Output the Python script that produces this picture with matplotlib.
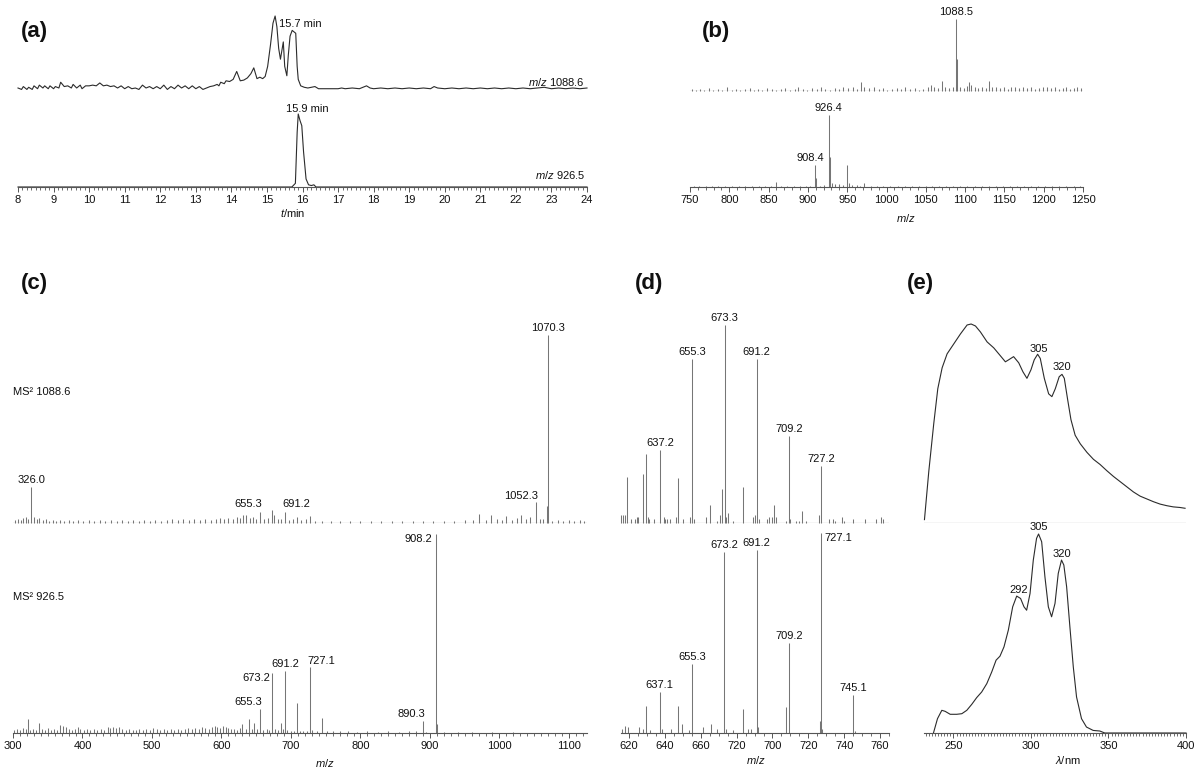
import matplotlib
matplotlib.use('Agg')
import matplotlib.pyplot as plt
import numpy as np
from matplotlib.ticker import MultipleLocator

plt.rcParams['font.family'] = ['Liberation Sans', 'DejaVu Sans']
plt.rcParams['mathtext.fontset'] = 'custom'
plt.rcParams['mathtext.it'] = 'Liberation Sans:italic'
plt.rcParams['mathtext.rm'] = 'Liberation Sans'

# ---- (a) extracted ion chromatograms (relative intensity, %) ----
a_top_t = [8.0, 8.1, 8.15, 8.25, 8.3, 8.4, 8.45, 8.55, 8.6, 8.7,
           8.75, 8.85, 8.9, 9.0, 9.05, 9.15, 9.2, 9.3, 9.4, 9.5,
           9.55, 9.65, 9.75, 9.8, 9.9, 10.0, 10.1, 10.2, 10.3, 10.4,
           10.5, 10.6, 10.7, 10.8, 10.9, 11.0, 11.1, 11.2, 11.3, 11.4,
           11.5, 11.6, 11.7, 11.8, 11.9, 12.0, 12.1, 12.2, 12.3, 12.4,
           12.5, 12.6, 12.7, 12.8, 12.9, 13.0, 13.1, 13.2, 13.3, 13.4,
           13.5, 13.6, 13.65, 13.7, 13.8, 13.85, 13.95, 14.05, 14.15, 14.25,
           14.35, 14.45, 14.55, 14.63, 14.72, 14.8, 14.88, 14.95, 15.02, 15.1,
           15.17, 15.23, 15.28, 15.33, 15.38, 15.43, 15.46, 15.5, 15.56, 15.6,
           15.65, 15.71, 15.76, 15.81, 15.85, 15.88, 15.95, 16.05, 16.15, 16.25,
           16.35, 16.45, 16.6, 16.8, 17.0, 17.1, 17.2, 17.4, 17.6, 17.8,
           17.9, 18.0, 18.2, 18.4, 18.6, 18.8, 19.0, 19.2, 19.4, 19.6,
           19.7, 19.8, 20.0, 20.2, 20.4, 20.6, 20.8, 21.0, 21.2, 21.4,
           21.6, 21.8, 22.0, 22.2, 22.4, 22.6, 22.8, 23.0, 23.2, 23.4,
           23.6, 23.8, 24.0]
a_top_int = [0, -2, 2, -2, 1, -2, 3, -1, 4, 0,
             3, -1, 3, -1, 2, 0, 8, 2, 3, 0,
             5, 0, 4, -1, 3, 3, 4, 3, 7, 3,
             4, 2, 3, 0, 3, -1, 2, -1, 0, -2,
             4, 0, 2, -1, 2, -1, 4, -2, 2, -1,
             4, 0, 3, -1, 3, -1, 2, -2, 0, 2,
             3, 5, 3, 8, 6, 10, 9, 12, 23, 10,
             11, 14, 20, 28, 13, 15, 13, 16, 30, 60,
             90, 100, 85, 55, 40, 55, 64, 30, 17, 45,
             72, 80, 78, 76, 30, 12, 3, 1, 0, 1,
             2, -1, -1, -1, -1, 0, -1, 0, -1, 3,
             0, -1, 0, -1, 0, -1, 0, -1, 0, -1,
             2, 0, -1, 0, -1, 0, -1, 0, -1, 0,
             -1, 0, -1, 0, -1, 0, 1, -1, 0, -1,
             0, -1, 0]
a_bot_t = [8.0, 15.7, 15.8, 15.85, 15.88, 15.93, 15.98, 16.03, 16.1, 16.17, 16.25, 16.32, 16.38, 24.0]
a_bot_int = [0, 0, 5, 75, 100, 91, 84, 48, 11, 3, 2, 3, 0, 0]

# ---- (b) full-scan mass spectra ----
b_top_mz = [752, 757, 763, 768, 774, 779, 785, 791, 797, 803,
            808, 814, 820, 826, 831, 837, 842, 848, 854, 860,
            866, 871, 877, 883, 888, 894, 899, 905, 911, 917,
            922, 928, 934, 940, 945, 951, 957, 962, 967, 972,
            978, 984, 990, 996, 1001, 1007, 1013, 1018, 1024, 1030,
            1036, 1041, 1047, 1053, 1056, 1060, 1065, 1071, 1075, 1080,
            1085, 1088.5, 1090, 1094, 1098, 1102, 1105, 1107, 1112, 1117,
            1122, 1126, 1130, 1134, 1139, 1144, 1149, 1154, 1159, 1164,
            1169, 1174, 1179, 1184, 1189, 1194, 1199, 1204, 1209, 1214,
            1219, 1224, 1229, 1234, 1239, 1243, 1247]
b_top_int = [3, 2, 3, 2, 4, 2, 3, 2, 5, 2,
             3, 2, 3, 4, 2, 3, 2, 4, 3, 2,
             3, 4, 2, 3, 5, 3, 2, 4, 3, 5,
             3, 2, 4, 3, 6, 4, 5, 3, 12, 5,
             4, 6, 3, 4, 2, 3, 4, 3, 5, 3,
             4, 2, 3, 5, 9, 6, 4, 14, 5, 4,
             6, 100, 44, 5, 4, 7, 12, 9, 5, 4,
             6, 4, 14, 6, 5, 4, 5, 3, 5, 6,
             4, 5, 4, 5, 3, 4, 5, 6, 4, 5,
             3, 4, 5, 3, 4, 5, 4]
b_bot_mz = [755, 762, 770, 778, 786, 795, 804, 812, 820, 829,
            838, 846, 853, 860, 866, 874, 882, 890, 897, 903,
            908.4, 910, 916, 920, 926.4, 928, 931, 935, 940, 945,
            950, 952, 956, 962, 966, 972, 980, 988, 996, 1005,
            1014, 1023, 1032, 1041, 1050, 1058, 1067, 1076, 1085, 1094,
            1103, 1112, 1121, 1130, 1139, 1148, 1157, 1166, 1175, 1184,
            1193, 1202, 1211, 1220, 1229, 1238, 1246]
b_bot_int = [2, 1, 2, 1, 2, 1, 2, 1, 2, 1,
             2, 1, 2, 7, 2, 1, 2, 1, 2, 2,
             30, 12, 2, 3, 100, 42, 5, 4, 4, 3,
             31, 5, 3, 3, 2, 5, 2, 2, 1, 2,
             1, 2, 1, 2, 1, 2, 1, 2, 1, 2,
             1, 2, 1, 2, 1, 2, 1, 2, 1, 2,
             1, 2, 1, 2, 1, 2, 1]
b_top_labels = ['1088.5']
b_bot_labels = ['908.4', '926.4']

# ---- (c) MS2 spectra ----
c_top_mz = [303, 307, 311, 315, 319, 322, 326.0, 330, 334, 338,
            343, 347, 352, 357, 362, 368, 374, 380, 387, 394,
            401, 409, 417, 425, 433, 441, 449, 457, 465, 473,
            481, 489, 497, 505, 513, 521, 529, 537, 545, 553,
            561, 569, 577, 585, 592, 598, 604, 610, 616, 622,
            627, 631, 635, 641, 646, 650, 655.3, 661, 667, 673,
            676, 681, 686, 691.2, 697, 703, 709, 715, 721, 727,
            735, 745, 757, 770, 785, 800, 815, 830, 845, 860,
            875, 890, 905, 920, 935, 950, 962, 970, 980, 988,
            996, 1003, 1010, 1018, 1025, 1031, 1038, 1044, 1052.3, 1058,
            1062, 1068, 1070.3, 1076, 1084, 1092, 1100, 1108, 1116, 1122]
c_top_int = [1.5, 2, 1.5, 2.5, 3, 2, 19, 3, 2, 2.5,
             1.5, 2, 1, 1.5, 1, 1.5, 1, 1.5, 1, 1.5,
             1, 1.5, 1, 1.5, 1, 1.5, 1, 1.5, 1, 1.5,
             1, 1.5, 1, 1.5, 1, 1.5, 2, 1.5, 2, 1.5,
             2, 1.5, 2, 1.5, 2, 2.5, 2, 2.5, 2, 3,
             2.5, 4, 4.5, 2.5, 3, 2, 6, 2, 2.5, 7,
             4, 2, 2, 6, 1.5, 2, 3, 1.5, 2, 3.5,
             1, 1, 1, 1, 1, 1, 1, 1, 1, 1,
             1, 1, 1, 1, 1, 1.5, 1.5, 5, 1.5, 4,
             2, 1.5, 3.5, 1.5, 2.5, 4, 2, 3, 11, 2,
             2, 9, 100, 1, 1.5, 1, 1.5, 1, 1.5, 1]
c_bot_mz = [302, 306, 310, 314, 318, 321, 325, 329, 333, 338,
            342, 346, 350, 355, 359, 364, 368, 372, 376, 380,
            385, 389, 393, 397, 402, 406, 411, 416, 421, 426,
            431, 436, 440, 444, 448, 452, 457, 462, 467, 472,
            477, 482, 487, 492, 497, 502, 507, 512, 517, 522,
            527, 532, 537, 542, 547, 552, 557, 562, 567, 572,
            577, 582, 587, 590, 594, 598, 602, 606, 610, 614,
            618, 623, 627, 630, 635, 640, 644, 647, 651, 655.3,
            660, 665, 669, 673.2, 677, 681, 686, 689, 691.2, 695,
            700, 705, 709, 713, 718, 723, 727.1, 730, 737, 745,
            752, 760, 770, 782, 795, 810, 825, 840, 855, 870,
            880, 890.3, 895, 908.2, 910, 920, 940, 960, 990, 1020]
c_bot_int = [1.5, 2, 1.5, 2.5, 2, 7, 1.5, 2, 1.5, 5,
             2, 1.5, 2.5, 1.5, 2, 1.5, 4, 3.5, 3, 2,
             1.5, 2, 3, 2, 1.5, 2, 1.5, 2, 1.5, 2,
             1.5, 3, 2.5, 3, 2.5, 3, 2, 1.5, 2, 1.5,
             1.5, 2, 1.5, 2, 1.5, 2.5, 2, 1.5, 2, 1.5,
             2, 1.5, 2, 1.5, 2, 2.5, 2, 2.5, 2, 3,
             2.5, 2, 3, 3.5, 3, 2.5, 3.5, 3, 2.5, 2,
             2, 1.5, 2.5, 4.5, 2, 7, 2, 5, 2, 12,
             1.5, 2, 1.5, 30, 2, 1.5, 5, 2, 31, 1.5,
             1, 1, 15, 1, 1, 1, 33, 1.5, 1, 7.5,
             1, 1, 1, 1, 0.5, 1, 0.5, 1, 0.5, 1,
             1, 6, 0.5, 100, 4.5, 0.5, 0.5, 0.5, 0.5, 0.5]
c_top_labels = ['326.0', '655.3', '691.2', '1052.3', '1070.3']
c_bot_labels = ['655.3', '673.2', '691.2', '727.1', '890.3', '908.2']

# ---- (d) MS3 spectra ----
d_top_mz = [615.6, 616.5, 617.5, 619.1, 620.8, 623.2, 624.5, 625.0, 627.7, 629.5,
            630.4, 631.2, 633.8, 637.2, 639.3, 640.2, 641.2, 643.0, 646.4, 647.1,
            649.9, 654.1, 655.3, 656.4, 662.7, 665.2, 668.9, 670.8, 672.1, 673.3,
            674.0, 675.4, 678.2, 683.4, 689.3, 690.0, 691.2, 692.7, 696.7, 698.2,
            699.5, 701.0, 701.7, 707.8, 709.2, 710.0, 713.4, 714.7, 716.5, 718.6,
            726.0, 727.2, 731.5, 733.8, 735.1, 738.8, 739.7, 744.9, 751.4, 757.5,
            760.6, 761.9]
d_top_int = [4, 4, 4, 23, 2, 2, 3, 3, 25, 35,
             3, 2, 2, 37, 3, 2, 2, 2, 3, 22.5,
             2, 3, 83, 2, 3, 9, 1, 4, 17, 100,
             3, 5, 1, 18, 3, 4, 83, 2, 2, 3,
             3, 9, 3, 1, 44, 2, 1, 1, 6, 1,
             4, 29, 2, 2, 1, 3, 1, 2, 2, 2,
             3, 2]
d_bot_mz = [615.8, 617.5, 619.3, 625.4, 627.7, 629.5, 631.4, 637.1, 638.4, 643.6,
            647.3, 649.5, 653.2, 655.3, 661.0, 665.6, 668.9, 673.2, 674.0, 678.2,
            683.4, 686.2, 687.8, 691.2, 691.9, 707.8, 709.2, 726.4, 727.1, 727.7,
            745.1, 746.0]
d_bot_int = [2, 3.5, 3, 3, 2, 13.5, 1.5, 20.5, 2, 2,
             13.5, 4.5, 1.5, 34.5, 3, 4.5, 2, 90.5, 2, 1.5,
             12, 2, 2, 91.5, 3, 13, 45, 6, 100, 2,
             19, 1]
d_top_labels = ['637.2', '655.3', '673.3', '691.2', '709.2', '727.2']
d_bot_labels = ['637.1', '655.3', '673.2', '691.2', '709.2', '727.1', '745.1']
d_ticks = [620, 640, 660, 680, 700, 720, 740, 760]
d_tick_labels = ['620', '640', '660', '720', '700', '720', '740', '760']

# ---- (e) UV spectra ----
e_top_wl = [231.3, 234.1, 237.3, 239.9, 242.7, 245.9, 250.2, 254.5, 258.8, 261.4,
            264.2, 267.4, 271.7, 276.0, 280.3, 283.5, 285.6, 288.8, 292.1, 294.8,
            297.4, 300.0, 302.1, 304.3, 306.0, 308.6, 311.4, 313.5, 315.7, 318.2,
            320.0, 321.5, 323.6, 325.8, 328.5, 331.8, 336.1, 340.3, 344.6, 348.9,
            353.2, 357.5, 361.8, 366.1, 370.4, 374.7, 379.0, 383.3, 387.6, 391.8,
            396.1, 399.4]
e_top_abs = [1.7, 26, 50, 67.5, 78, 85, 90, 95, 99.5, 100,
             99, 96, 91, 88, 84, 81, 82, 83.6, 80.5, 76,
             72.7, 77, 82, 84.8, 82.7, 72.7, 64.9, 63.5, 67.5, 73.5,
             74.7, 72.7, 62.3, 51.9, 44.1, 39.8, 35.5, 32, 29.4, 26.3,
             23.4, 20.8, 18.2, 15.6, 13.5, 12.1, 10.7, 9.5, 8.7, 8.1,
             7.8, 7.4]
e_bot_wl = [237.1, 239.7, 242.5, 244.6, 247.9, 252.1, 255.4, 258.6, 261.8, 265.0,
            268.2, 271.5, 274.7, 277.5, 280.0, 282.6, 285.4, 288.2, 290.8, 293.3,
            295.5, 297.2, 299.4, 301.5, 303.6, 304.9, 306.9, 309.0, 311.2, 313.3,
            315.5, 317.6, 319.7, 321.2, 323.0, 325.1, 327.3, 329.4, 332.6, 335.8,
            340.1, 344.4, 347.6, 400.0]
e_bot_abs = [0, 7.2, 11.4, 10.9, 9.4, 9.4, 9.7, 11.4, 14.4, 17.8,
             20.6, 24.8, 30.7, 36.6, 38.6, 43.3, 51.7, 63.4, 68.8, 67.6,
             63.4, 61.7, 70.1, 86.9, 97.8, 100, 96.1, 78.5, 63.4, 58.4,
             65.1, 80.2, 86.9, 84.4, 73.5, 53.4, 33.2, 18.1, 7.2, 3.0,
             1.3, 1.0, 0, 0]
e_top_labels = ['305', '320']
e_bot_labels = ['292', '305', '320']

W, H = 1200, 769
TRACE = '#2b2b2b'
STICK = '#767676'
AXIS = '#555555'
TEXT = '#111111'
FS = 8

fig = plt.figure(figsize=(W / 100, H / 100), dpi=100)


def panel(x0, x1, y_base, y_top, xlim, ticks=None, baseline=False):
    ax = fig.add_axes([x0 / W, 1 - y_base / H, (x1 - x0) / W, (y_base - y_top) / H])
    ax.set_xlim(xlim)
    ax.set_ylim(0, 100)
    ax.patch.set_visible(False)
    for s in ax.spines.values():
        s.set_visible(False)
    ax.set_yticks([])
    if ticks is None:
        ax.set_xticks([])
        if baseline:
            ax.axhline(0, color=AXIS, lw=0.8)
    else:
        major, minor = ticks
        ax.spines['bottom'].set_visible(True)
        ax.spines['bottom'].set_color(AXIS)
        ax.spines['bottom'].set_linewidth(0.8)
        ax.xaxis.set_major_locator(MultipleLocator(major))
        ax.xaxis.set_minor_locator(MultipleLocator(minor))
        ax.tick_params(axis='x', which='major', direction='out', length=3.8, width=0.7,
                       color=AXIS, labelsize=FS, labelcolor=TEXT, pad=2)
        ax.tick_params(axis='x', which='minor', direction='out', length=2.3, width=0.6,
                       color=AXIS)
    return ax


def sticks(ax, mz, inten):
    ax.vlines(mz, 0, inten, colors=STICK, lw=0.75, clip_on=False)


def peak_labels(ax, mz, inten, labels, style):
    for lab in labels:
        v = float(lab)
        y = inten[mz.index(v)]
        ha, va, dx, dy = style.get(lab, ('center', 'bottom', 0, 2))
        ax.annotate(lab, (v, y), xytext=(dx, dy), textcoords='offset pixels',
                    ha=ha, va=va, fontsize=FS, color=TEXT, annotation_clip=False)


def curve_labels(ax, wl, absb, labels):
    for lab in labels:
        v = float(lab)
        y = np.interp(v, wl, absb)
        ax.annotate(lab, (v, y), xytext=(0, 2), textcoords='offset pixels',
                    ha='center', va='bottom', fontsize=FS, color=TEXT, annotation_clip=False)


# (a)
ax = panel(18, 587, 88, 16, (8, 24))
ax.plot(a_top_t, a_top_int, color=TRACE, lw=0.8, clip_on=False)
ax = panel(18, 587, 187, 114, (8, 24), ticks=(1, 0.125))
ax.plot(a_bot_t, a_bot_int, color=TRACE, lw=0.8, clip_on=False)
fig.text(300 / W, 1 - 24 / H, '15.7 min', ha='center', va='center', fontsize=FS, color=TEXT)
fig.text(307 / W, 1 - 109 / H, '15.9 min', ha='center', va='center', fontsize=FS, color=TEXT)
fig.text(585 / W, 1 - 82 / H, '$m/z$ 1088.6', ha='right', va='center', fontsize=FS, color=TEXT)
fig.text(585 / W, 1 - 175 / H, '$m/z$ 926.5', ha='right', va='center', fontsize=FS, color=TEXT)
fig.text(293 / W, 1 - 213 / H, '$t$/min', ha='center', va='center', fontsize=FS, color=TEXT)

# (b)
ax = panel(690, 1083, 91, 19, (750, 1250), baseline=True)
sticks(ax, b_top_mz, b_top_int)
peak_labels(ax, b_top_mz, b_top_int, b_top_labels, {})
ax = panel(690, 1083, 187, 115, (750, 1250), ticks=(50, 10))
sticks(ax, b_bot_mz, b_bot_int)
peak_labels(ax, b_bot_mz, b_bot_int, b_bot_labels, {'908.4': ('center', 'bottom', -4, 2)})
fig.text(906 / W, 1 - 218 / H, '$m/z$', ha='center', va='center', fontsize=FS, color=TEXT)

# (c)
ax = panel(13, 587, 523, 335, (300, 1126), baseline=True)
sticks(ax, c_top_mz, c_top_int)
peak_labels(ax, c_top_mz, c_top_int, c_top_labels,
            {'655.3': ('right', 'bottom', 2, 3), '691.2': ('left', 'bottom', -2, 3),
             '1052.3': ('right', 'bottom', 2, 1)})
ax = panel(13, 587, 733, 534, (300, 1126), ticks=(100, 10))
sticks(ax, c_bot_mz, c_bot_int)
peak_labels(ax, c_bot_mz, c_bot_int, c_bot_labels,
            {'908.2': ('right', 'top', -3, 0), '890.3': ('right', 'bottom', 2, 2),
             '727.1': ('left', 'bottom', -2, 1), '673.2': ('right', 'top', -2, 0),
             '655.3': ('right', 'bottom', 2, 2)})
fig.text(325 / W, 1 - 763 / H, '$m/z$', ha='center', va='center', fontsize=FS, color=TEXT)
fig.text(13 / W, 1 - 392 / H, 'MS² 1088.6', ha='left', va='center', fontsize=FS, color=TEXT)
fig.text(13 / W, 1 - 597 / H, 'MS² 926.5', ha='left', va='center', fontsize=FS, color=TEXT)

# (d)
ax = panel(621, 889, 523, 325, (615.5, 765), baseline=True)
sticks(ax, d_top_mz, d_top_int)
peak_labels(ax, d_top_mz, d_top_int, d_top_labels, {})
ax = panel(621, 889, 733, 533, (615.5, 765), ticks=(20, 5))
ax.set_xticks(d_ticks)
ax.set_xticklabels(d_tick_labels)
sticks(ax, d_bot_mz, d_bot_int)
peak_labels(ax, d_bot_mz, d_bot_int, d_bot_labels, {'727.1': ('left', 'top', 3, 0)})
fig.text(756 / W, 1 - 760 / H, '$m/z$', ha='center', va='center', fontsize=FS, color=TEXT)

# (e)
ax = panel(924, 1186, 523, 324, (231, 400), baseline=True)
ax.plot(e_top_wl, e_top_abs, color=TRACE, lw=0.8, clip_on=False)
curve_labels(ax, e_top_wl, e_top_abs, e_top_labels)
ax = panel(924, 1186, 733, 534, (231, 400), ticks=(50, 2))
ax.plot(e_bot_wl, e_bot_abs, color=TRACE, lw=0.8, clip_on=False)
curve_labels(ax, e_bot_wl, e_bot_abs, e_bot_labels)
fig.text(1068 / W, 1 - 760 / H, '$\\lambda$/nm', ha='center', va='center', fontsize=FS, color=TEXT)

# panel letters
for lab, x, y in [('(a)', 21, 31), ('(b)', 702, 31), ('(c)', 21, 283), ('(d)', 635, 283), ('(e)', 907, 283)]:
    fig.text(x / W, 1 - y / H, lab, ha='left', va='center', fontsize=16, fontweight='bold', color=TEXT)

fig.savefig('out.png', dpi=100)
